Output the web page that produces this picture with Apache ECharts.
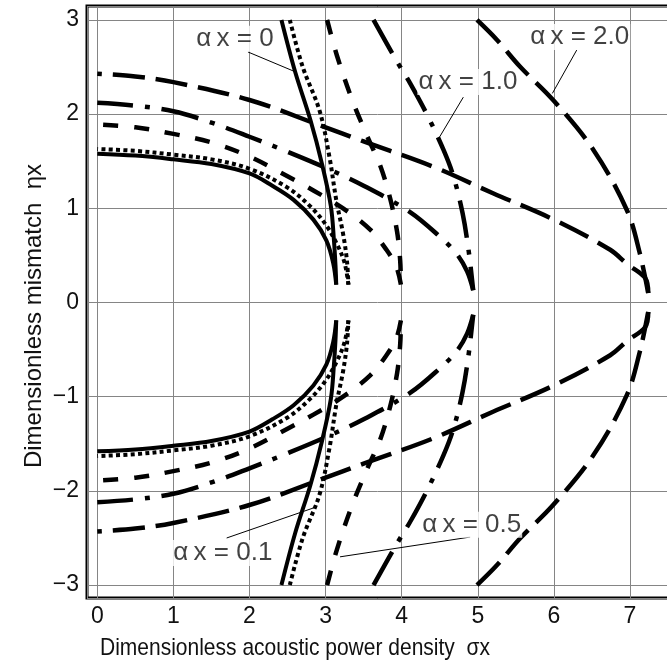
<!DOCTYPE html>
<html>
<head>
<meta charset="utf-8">
<script src="https://cdn.jsdelivr.net/npm/echarts@6.0.0/dist/echarts.min.js"></script>
<style>
  html, body { margin: 0; padding: 0; background: #fff; }
  #chart { width: 667px; height: 666px; }
</style>
</head>
<body>
<div id="chart"></div>
<script>
// Contours in the (σx, ηx) plane for several values of αx.
// Only the upper half (ηx > 0) is listed; the lower half is its mirror image.
// Each contour has a steep branch (from ηx = 3 down to the cusp) and a flat
// branch (from the cusp back to σx = 0).

const steepA0  = [[2.42,3.0],[2.60,2.45],[2.80,1.94],[2.95,1.48],[3.07,1.02],[3.11,0.66],[3.13,0.40],[3.14,0.19]];
const flatA0   = [[3.14,0.19],[3.10,0.42],[3.01,0.66],[2.84,0.88],[2.58,1.09],[2.30,1.24],[2.00,1.37],[1.50,1.47],[1.00,1.52],[0.50,1.56],[0,1.58]];

const steepA01 = [[2.53,3.0],[2.70,2.50],[2.92,2.04],[3.05,1.55],[3.14,1.09],[3.23,0.73],[3.28,0.45],[3.30,0.19]];
const flatA01  = [[3.30,0.19],[3.25,0.42],[3.15,0.62],[3.00,0.83],[2.80,1.02],[2.50,1.22],[2.00,1.42],[1.50,1.52],[1.00,1.57],[0.50,1.61],[0,1.63]];

const steepA05 = [[3.02,3.0],[3.15,2.62],[3.35,2.15],[3.55,1.76],[3.72,1.45],[3.85,1.10],[3.94,0.75],[3.98,0.45],[3.99,0.19]];
const flatA05  = [[3.99,0.19],[3.93,0.38],[3.80,0.56],[3.59,0.77],[3.23,1.00],[2.84,1.19],[2.50,1.34],[2.00,1.55],[1.50,1.70],[1.00,1.79],[0.50,1.86],[0,1.89]];

const steepA10 = [[3.63,3.0],[3.93,2.57],[4.11,2.33],[4.33,2.00],[4.55,1.62],[4.68,1.34],[4.80,0.95],[4.88,0.55],[4.94,0.13]];
const flatA10  = [[4.94,0.13],[4.86,0.33],[4.72,0.52],[4.50,0.70],[4.11,0.96],[3.50,1.24],[3.00,1.43],[2.50,1.60],[2.00,1.76],[1.50,1.91],[1.00,2.03],[0.50,2.09],[0,2.12]];

const steepA20 = [[4.99,3.0],[5.25,2.79],[5.56,2.50],[5.99,2.15],[6.52,1.62],[6.96,0.98],[7.13,0.52],[7.24,0.10]];
const flatA20  = [[7.24,0.10],[7.20,0.26],[6.96,0.41],[6.74,0.56],[6.00,0.88],[5.20,1.16],[4.42,1.44],[3.50,1.71],[2.93,1.88],[2.00,2.15],[1.00,2.34],[0.50,2.40],[0,2.43]];

// Curve annotations: text anchor and leader line ends, in data units.
const annotationTexts   = ['\u03b1\u2009x = 0', '\u03b1\u2009x = 0.1', '\u03b1\u2009x = 0.5', '\u03b1\u2009x = 1.0', '\u03b1\u2009x = 2.0'];
const annotationAnchors = [[1.81,2.80],[1.65,-2.66],[4.92,-2.36],[4.87,2.34],[6.34,2.82]];
const leaderStarts      = [[1.98,2.66],[1.70,-2.50],[4.90,-2.49],[4.81,2.18],[6.30,2.68]];
const leaderEnds        = [[2.60,2.45],[2.88,-2.17],[3.19,-2.70],[4.50,1.76],[5.98,2.22]];

const xTitle = 'Dimensionless acoustic power density  \u03c3x';
const yTitle = 'Dimensionless mismatch  \u03b7x';

const FONT = '"Liberation Sans", Arial, Helvetica, sans-serif';

const curves = [
  { steep: steepA0,  flat: flatA0,  dash: 'solid',          width: 4 },
  { steep: steepA01, flat: flatA01, dash: [4, 3.3],         width: 4 },
  { steep: steepA05, flat: flatA05, dash: [15, 16],         width: 4.5 },
  { steep: steepA10, flat: flatA10, dash: [38, 12, 5, 12],  width: 4.5 },
  { steep: steepA20, flat: flatA20, dash: [32, 11],         width: 4.5 }
];

const mirror = pts => pts.map(p => [p[0], -p[1]]);

const series = [];
curves.forEach(c => {
  [c.steep, c.flat, mirror(c.steep), mirror(c.flat)].forEach(branch => {
    series.push({
      type: 'line',
      data: branch,
      symbol: 'none',
      smooth: 0.35,
      silent: true,
      z: 3,
      lineStyle: { color: '#000', width: c.width, type: c.dash, cap: 'butt', join: 'round' }
    });
  });
});

series.push({
  type: 'lines',
  coordinateSystem: 'cartesian2d',
  silent: true,
  z: 4,
  lineStyle: { color: '#000', width: 1, opacity: 1 },
  data: leaderStarts.map((s, i) => ({ coords: [s, leaderEnds[i]] }))
});

series.push({
  type: 'scatter',
  silent: true,
  z: 5,
  symbolSize: 0.1,
  itemStyle: { color: 'rgba(0,0,0,0)' },
  label: {
    show: true,
    position: 'inside',
    formatter: '{b}',
    fontFamily: FONT,
    fontSize: 26,
    color: '#111',
    backgroundColor: '#fff',
    padding: [0, 1]
  },
  data: annotationAnchors.map((a, i) => ({ value: a, name: annotationTexts[i] }))
});

const tickText = v => {
  if (Math.abs(v - Math.round(v)) > 1e-6) return '';
  const r = Math.round(v);
  return r < 0 ? '\u2212' + Math.abs(r) : String(r);
};

const gridLine = { show: true, lineStyle: { color: '#858585', width: 1 } };

const chart = echarts.init(document.getElementById('chart'), null, { renderer: 'canvas' });
chart.setOption({
  animation: false,
  backgroundColor: '#fff',
  grid: {
    left: 87, top: 6, width: 620, height: 592,
    outerBoundsMode: 'none',
    containLabel: false,
    show: true, borderColor: '#000', borderWidth: 3, backgroundColor: 'rgba(0,0,0,0)'
  },
  xAxis: {
    type: 'value',
    min: -0.135,
    max: -0.135 + 620 / 76.1,
    minInterval: 1,
    maxInterval: 1,
    axisLine: { show: false },
    axisTick: { show: false },
    axisLabel: { formatter: tickText, fontFamily: FONT, fontSize: 23, color: '#111', margin: 7 },
    splitLine: gridLine
  },
  yAxis: {
    type: 'value',
    min: -3.137,
    max: 3.148,
    minInterval: 1,
    maxInterval: 1,
    axisLine: { show: false },
    axisTick: { show: true, inside: false, length: 6, lineStyle: { color: '#858585', width: 1 } },
    axisLabel: { formatter: tickText, fontFamily: FONT, fontSize: 23, color: '#111', margin: 8 },
    splitLine: gridLine
  },
  graphic: [
    {
      type: 'text',
      x: 100, y: 648.5,
      scaleX: 0.875,
      style: { text: xTitle, fontFamily: FONT, fontSize: 24, fill: '#111', align: 'left', verticalAlign: 'middle' }
    },
    {
      type: 'text',
      x: 34, y: 316,
      rotation: Math.PI / 2,
      style: { text: yTitle, fontFamily: FONT, fontSize: 24, fill: '#111', align: 'center', verticalAlign: 'middle' }
    }
  ],
  series: series
});
</script>
</body>
</html>
